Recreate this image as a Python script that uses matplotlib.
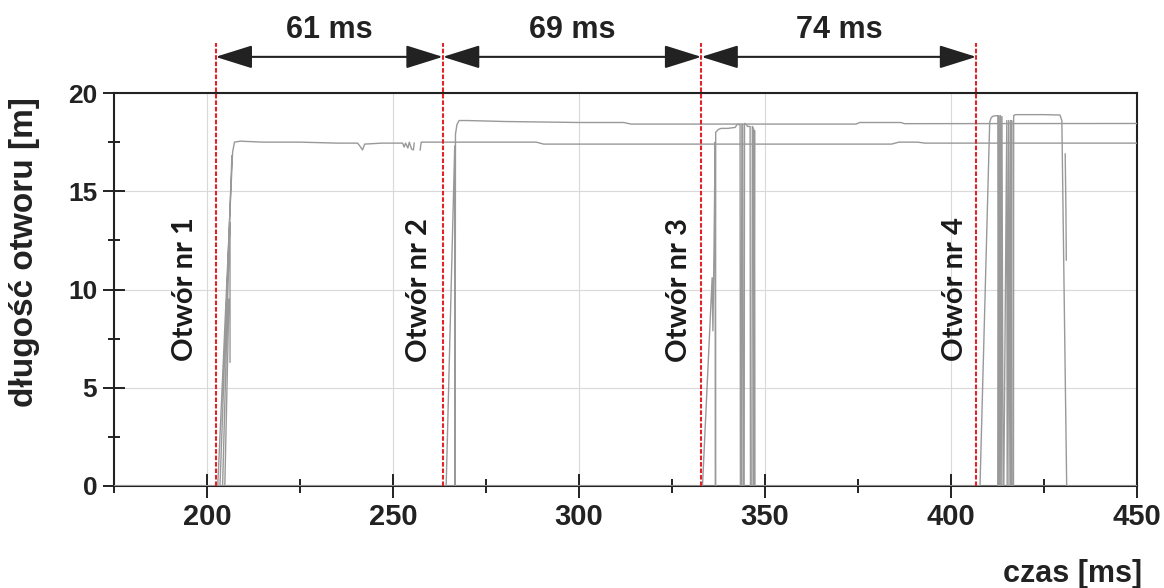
"""
Długość otworu w czasie - cztery kolejne otwory z zaznaczonymi odstępami.

Output:
out.png
"""

import matplotlib.pyplot as plt
import numpy as np

NAN = np.nan

# Otwór nr 1
hole1_t = [175, 202.9, 206.9, 207.4, 209, 215, 225, 235, 240.5, 241.3, 241.8,
           242.4, 247, 252.6, 253.0, 253.4, 254.0, 254.4, 255.0, 255.5, 255.7,
           NAN, 257.3, 257.6, 265, 280, 288.5, 290.5, 330, 384, 386, 391, 393, 450,
           NAN, 203.5, 206.7,
           NAN, 204.2, 206.0, 206.2, 206.2,
           NAN, 204.8, 205.9]
hole1_v = [0, 0, 17.0, 17.5, 17.55, 17.5, 17.5, 17.45, 17.45, 17.25, 17.1,
           17.4, 17.45, 17.45, 17.25, 17.45, 17.2, 17.5, 17.15, 17.1, 17.45,
           NAN, 17.1, 17.5, 17.5, 17.5, 17.5, 17.4, 17.4, 17.4, 17.5, 17.5, 17.45, 17.45,
           NAN, 0, 16.8,
           NAN, 0, 12.5, 13.4, 6.3,
           NAN, 0, 9.5]

# Otwór nr 2
hole2_t = [175, 264.3, 266.6, 266.7, 266.8, 267.2, 267.8, 270, 280, 300, 312,
           314, 350, 374.5, 375.5, 386.5, 387.5, 450]
hole2_v = [0, 0, 17.3, 0, 17.9, 18.4, 18.6, 18.6, 18.55, 18.5, 18.5,
           18.42, 18.42, 18.42, 18.5, 18.5, 18.44, 18.45]

# Otwór nr 3
hole3_t = [175, 333.2, 335.8, 336.0, 336.3, 336.6, 336.7, 336.75, 337.5, 338.2,
           340, 342, 342.5, 343.3, 343.4, 343.6, 343.8, 344.0, 344.1, 344.4,
           344.5, 345.0, 345.3, 346.0, 346.1, 346.5, 346.6, 346.9, 347.0, 347.2,
           347.3, 450]
hole3_v = [0, 0, 10.6, 7.9, 12.0, 17.5, 0, 18.0, 18.15, 18.2,
           18.2, 18.25, 18.4, 18.4, 0, 0, 18.4, 18.4, 0, 0,
           18.45, 18.4, 18.3, 18.3, 0, 0, 18.3, 18.2, 0, 18.1,
           0, 0]

# Otwór nr 4
hole4_t = [175, 407.8, 410.4, 410.8, 411.4, 412.6, 412.7, 412.9, 413.1, 413.3,
           413.5, 413.7, 414.0, 414.2, 415.0, 415.1, 415.5, 415.6, 416.0, 416.1,
           416.3, 416.4, 416.8, 416.85, 417.3, 425, 429.3, 429.8, 431.1, 450,
           NAN, 430.7, 430.9, 431.0]
hole4_v = [0, 0, 18.5, 18.75, 18.83, 18.85, 0, 18.85, 0, 18.85,
           0, 18.8, 0, 0, 18.6, 0, 18.6, 0, 18.6, 0,
           18.6, 0, 0, 18.85, 18.9, 18.9, 18.88, 18.6, 0, 0,
           NAN, 16.9, 14.0, 11.5]

holes = [(hole1_t, hole1_v), (hole2_t, hole2_v), (hole3_t, hole3_v), (hole4_t, hole4_v)]

# początki kolejnych otworów [ms]
starts = [202.3, 263.4, 332.9, 406.8]
intervals = ["61 ms", "69 ms", "74 ms"]

hole_labels = ["Otwór nr 1", "Otwór nr 2", "Otwór nr 3", "Otwór nr 4"]
hole_label_x = [194, 257, 327, 401]

x_ticks = [200, 250, 300, 350, 400, 450]
y_ticks = [0, 5, 10, 15, 20]

RED = "#e1242c"
GRAY = "#999999"
DARK = "#222222"

plt.rcParams["font.family"] = ["Liberation Sans", "DejaVu Sans"]

fig = plt.figure(figsize=(11.64, 5.88), dpi=100)
ax = fig.add_axes([0.0979, 0.1735, 0.8789, 0.6683])

for t, v in holes:
    ax.plot(t, v, color=GRAY, linewidth=1.0, zorder=3)

ax.set_xlim(175, 450)
ax.set_ylim(0, 20)

ax.set_xticks(x_ticks)
ax.set_xticks(np.arange(175, 451, 25), minor=True)
ax.set_yticks(y_ticks)
ax.set_yticks(np.arange(0, 20.1, 2.5), minor=True)

ax.grid(True, which="major", color="#d9d9d9", linewidth=0.8, zorder=0)

ax.tick_params(axis="x", which="major", direction="inout", length=17,
               width=1.4, color=DARK, labelsize=21, pad=3.5)
ax.tick_params(axis="x", which="minor", direction="inout", length=10,
               width=1.4, color=DARK)
ax.tick_params(axis="y", which="major", direction="inout", length=16,
               width=1.4, color=DARK, labelsize=19, pad=4)
ax.tick_params(axis="y", which="minor", direction="inout", length=8.5,
               width=1.4, color=DARK)
for lab in ax.get_xticklabels() + ax.get_yticklabels():
    lab.set_fontweight("bold")
    lab.set_color(DARK)

for side in ["left", "right", "top", "bottom"]:
    ax.spines[side].set_linewidth(1.5)
    ax.spines[side].set_color(DARK)

# czerwone linie początku otworów
ax.vlines(starts, 0, 1.127, transform=ax.get_xaxis_transform(),
          colors=RED, linewidth=1.5, linestyles=(0, (2.2, 0.9)),
          clip_on=False, zorder=4)

# strzałki z odstępami czasowymi
for i, text in enumerate(intervals):
    ax.annotate(
        "",
        xy=(starts[i + 1], 1.092),
        xytext=(starts[i], 1.092),
        xycoords=("data", "axes fraction"),
        textcoords=("data", "axes fraction"),
        arrowprops=dict(arrowstyle="<|-|>,head_length=1.15,head_width=0.36",
                        mutation_scale=20, color=DARK, linewidth=1.5,
                        shrinkA=0, shrinkB=0),
        annotation_clip=False,
    )
    ax.text((starts[i] + starts[i + 1]) / 2, 1.16, text,
            transform=ax.get_xaxis_transform(), ha="center", va="center",
            fontsize=22, fontweight="bold", color=DARK)

for x, text in zip(hole_label_x, hole_labels):
    ax.text(x, 10, text, rotation=90, ha="center", va="center",
            fontsize=21, fontweight="bold", color="#1a1a1a",
            family=["Lato", "DejaVu Sans"], zorder=5)

ax.set_ylabel("długość otworu [m]", fontsize=24, fontweight="bold",
              color=DARK, va="center")
ax.yaxis.set_label_coords(-0.087, 0.595)
ax.set_xlabel("czas [ms]", fontsize=22, fontweight="bold",
              color=DARK, ha="right", va="center")
ax.xaxis.set_label_coords(1.005, -0.224)

fig.savefig("out.png", dpi=100)
plt.close(fig)
